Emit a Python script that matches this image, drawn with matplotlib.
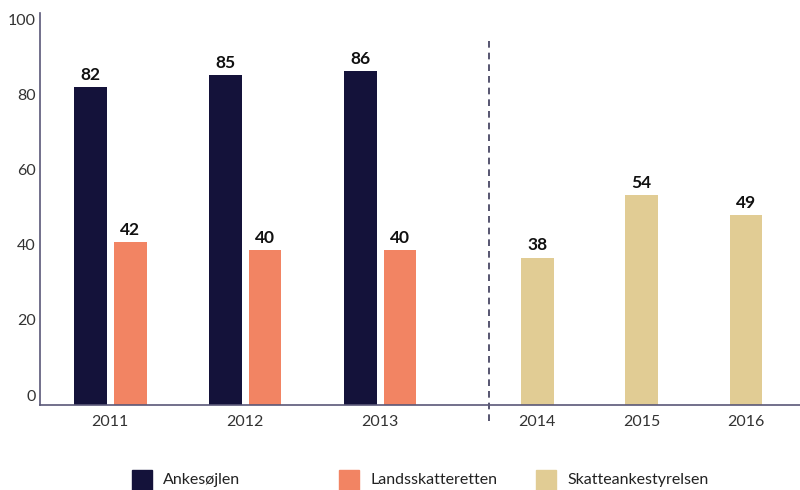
import matplotlib
matplotlib.use("Agg")
import matplotlib.pyplot as plt
import matplotlib.transforms as mtransforms
from matplotlib.patches import Rectangle
import numpy as np

years_a = ["2011", "2012", "2013"]
ankesojlen = [82, 85, 86]
landsskatteretten = [42, 40, 40]
years_b = ["2014", "2015", "2016"]
skatteankestyrelsen = [38, 54, 49]
series_names = ["Ankesøjlen", "Landsskatteretten", "Skatteankestyrelsen"]
colors = ["#14123a", "#f28463", "#e1cc94"]
yticks = [0, 20, 40, 60, 80, 100]

plt.rcParams['font.family'] = ['Lato', 'DejaVu Sans']

fig = plt.figure(figsize=(8, 4.9), dpi=100)
ax = fig.add_axes([40/800, 1-405/490, 760/800, (405-13)/490])

xa = np.arange(len(years_a))
xb = 3.163 + 0.774 * np.arange(len(years_b))
w = 0.244
off = 0.148

bars1 = ax.bar(xa - off, ankesojlen, w, color=colors[0])
bars2 = ax.bar(xa + off, landsskatteretten, w, color=colors[1])
bars3 = ax.bar(xb, skatteankestyrelsen, w, color=colors[2])

for bars in (bars1, bars2, bars3):
    for b in bars:
        ax.annotate(f"{int(b.get_height())}", (b.get_x() + b.get_width()/2, b.get_height()),
                    xytext=(0, 3), textcoords="offset points", ha="center", va="bottom",
                    fontsize=12.5, fontweight="bold", color="#111111")

ax.set_xlim(-0.519, 5.111)
ax.set_ylim(0, 101)
ax.set_xticks(list(xa) + list(xb))
ax.set_xticklabels(years_a + years_b, fontsize=11.5, color="#333333")
ax.set_yticks(yticks)
ax.set_yticklabels([str(v) for v in yticks], fontsize=11.5, color="#333333")
ax.tick_params(axis="both", length=0)
ax.tick_params(axis="x", pad=7)
ax.tick_params(axis="y", pad=3)
for v, lab in zip(yticks, ax.get_yticklabels()):
    dy = (10 - 0.13 * v) / 100
    lab.set_transform(lab.get_transform() + mtransforms.ScaledTranslation(0, dy, fig.dpi_scale_trans))

for s in ("top", "right"):
    ax.spines[s].set_visible(False)
for s in ("left", "bottom"):
    ax.spines[s].set_color("#5a5878")
    ax.spines[s].set_linewidth(1.2)

ax.plot([2.807, 2.807], [-4, 94], ls=(0, (4, 3)), color="#3a3858", lw=1.2, clip_on=False)

legend_x = [132, 339, 536]
for xpix, name, c in zip(legend_x, series_names, colors):
    fig.add_artist(Rectangle((xpix/800, 1-490/490), 20/800, 20/490, color=c, transform=fig.transFigure))
    fig.text((xpix+31)/800, 1-480/490, name, fontsize=11.5, color="#222222", va="center", ha="left")

fig.savefig("out.png", dpi=100)
